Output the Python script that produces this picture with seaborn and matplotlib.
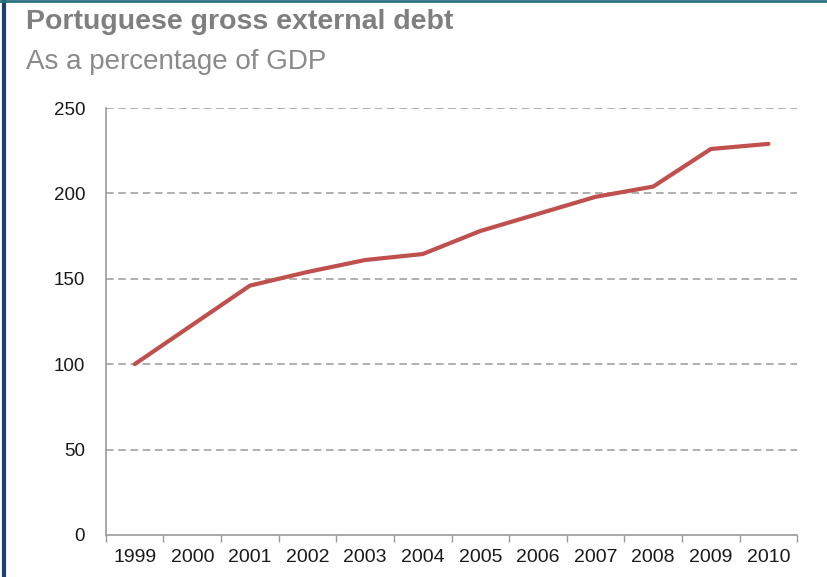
import matplotlib
matplotlib.use("Agg")
import matplotlib.pyplot as plt
import seaborn as sns
import pandas as pd
import numpy as np
from matplotlib.lines import Line2D

years = ["1999", "2000", "2001", "2002", "2003", "2004", "2005", "2006", "2007", "2008", "2009", "2010"]
debt = [100, 123, 146, 154, 161, 164.5, 178, 188, 198, 204, 226, 229]
y_ticks = [0, 50, 100, 150, 200, 250]

sns.set_theme(style="white")
plt.rcParams['font.family'] = ['Liberation Sans', 'DejaVu Sans']

df = pd.DataFrame({"year": years, "debt": debt})

fig = plt.figure(figsize=(8.27, 5.77), dpi=100)
ax = fig.add_axes([0.128, 0.0728, 0.836, 0.740])

sns.lineplot(data=df, x="year", y="debt", ax=ax, color="#C0504D", linewidth=3.0, sort=False)

ax.set_xlim(-0.5, len(years) - 0.5)
ax.set_ylim(0, 250)
ax.set_yticks(y_ticks)
ax.set_yticklabels([str(t) for t in y_ticks], fontsize=13.5, color="#1a1a1a")
ax.set_xticks(range(len(years)))
ax.set_xticklabels(years, fontsize=14, color="#1a1a1a")
ax.set_xticks(np.arange(-0.5, len(years), 1.0), minor=True)
ax.tick_params(axis="x", which="major", length=0, pad=10)
ax.tick_params(axis="x", which="minor", length=5, width=1, color="#999999", direction="out", bottom=True)
ax.tick_params(axis="y", which="major", length=0, pad=15)
ax.set_xlabel("")
ax.set_ylabel("")

for t in y_ticks[1:]:
    ax.axhline(t, color="#9a9a9a", linestyle=(0, (5, 3)), linewidth=1.1, zorder=0)

for s in ["top", "right"]:
    ax.spines[s].set_visible(False)
for s in ["left", "bottom"]:
    ax.spines[s].set_color("#999999")
    ax.spines[s].set_linewidth(1.2)

fig.text(0.032, 0.962, "Portuguese gross external debt", fontsize=20.5, fontweight="bold",
         color="#7f7f7f", ha="left", va="center")
fig.text(0.032, 0.893, "As a percentage of GDP", fontsize=20, color="#8a8a8a",
         ha="left", va="center")

fig.add_artist(Line2D([0.005, 0.005], [0, 1], transform=fig.transFigure, color="#1f3f6e", linewidth=3))
fig.add_artist(Line2D([0, 1], [0.998, 0.998], transform=fig.transFigure, color="#2a7080", linewidth=2))

fig.savefig("out.png", dpi=100)
